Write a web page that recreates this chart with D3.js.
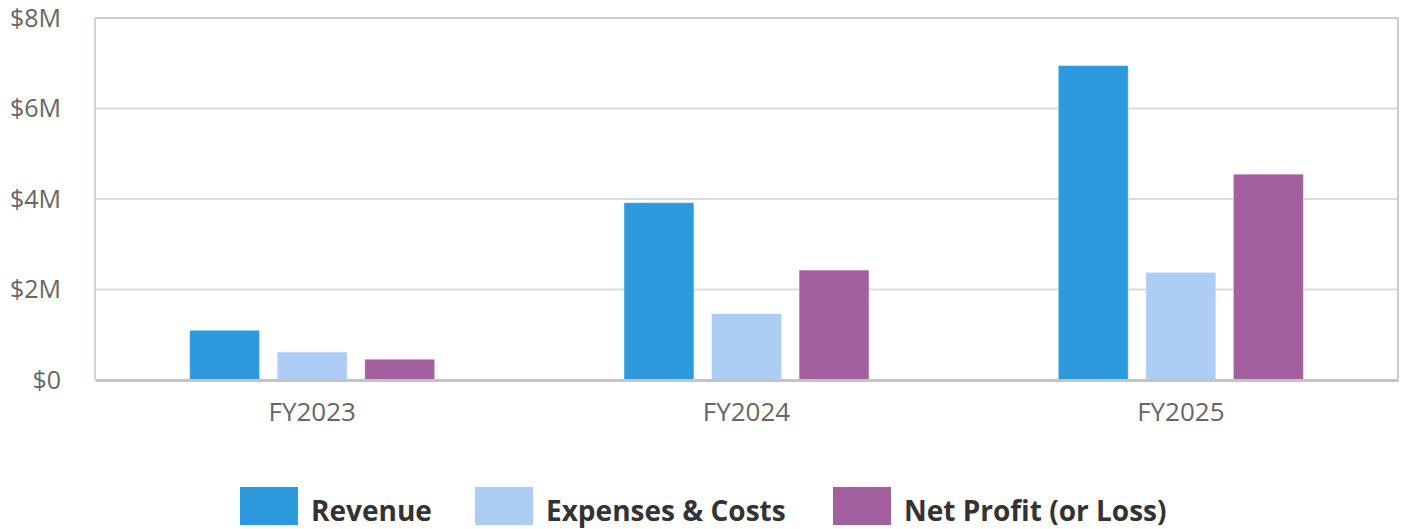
<!DOCTYPE html>
<html>
<head>
<meta charset="utf-8">
<script src="https://cdn.jsdelivr.net/npm/d3@7"></script>
<style>
  body { margin: 0; background: #fff; }
  svg text { font-family: "Open Sans", sans-serif; }
</style>
</head>
<body>
<div id="vis-container"></div>
<script>
// data
let years = ["FY2023", "FY2024", "FY2025"];
let seriesNames = ["Revenue", "Expenses & Costs", "Net Profit (or Loss)"];
let revenue = [1.10, 3.92, 6.95];
let expenses = [0.62, 1.47, 2.38];
let netProfit = [0.46, 2.43, 4.55];
let yTicks = [0, 2, 4, 6, 8];
let colors = ["#2e9ade", "#aecdf5", "#a2619e"];

let seriesValues = [revenue, expenses, netProfit];
let rows = years.map((yr, i) => ({
  year: yr,
  values: seriesNames.map((s, j) => ({ name: s, value: seriesValues[j][i], color: colors[j] }))
}));

//margins
let margin = {top: 18, right: 8, bottom: 149, left: 95};
let W = 1406, H = 529;
let width = W - margin.left - margin.right;
let height = H - margin.top - margin.bottom;

let svg = d3.select("#vis-container")
  .append("svg")
  .attr("width", W)
  .attr("height", H);

let g = svg.append("g")
  .attr("transform", `translate(${margin.left}, ${margin.top})`);

//scales
let x0 = d3.scaleBand()
  .domain(years)
  .range([0, width])
  .padding(0);

let x1 = d3.scaleBand()
  .domain(seriesNames)
  .range([0, x0.bandwidth()])
  .paddingInner(0.2)
  .paddingOuter(1.08);

let y = d3.scaleLinear()
  .domain([0, 8])
  .range([height, 0]);

//gridlines
g.append("g")
  .selectAll("line")
  .data(yTicks.filter(d => d > 0 && d < 8))
  .enter()
  .append("line")
    .attr("x1", 0)
    .attr("x2", width)
    .attr("y1", d => y(d))
    .attr("y2", d => y(d))
    .attr("stroke", "#dcdcdc")
    .attr("stroke-width", 2);

//top and right border
g.append("line")
  .attr("x1", 0).attr("x2", width)
  .attr("y1", y(8)).attr("y2", y(8))
  .attr("stroke", "#cccccc").attr("stroke-width", 2);
g.append("line")
  .attr("x1", width).attr("x2", width)
  .attr("y1", 0).attr("y2", height)
  .attr("stroke", "#cccccc").attr("stroke-width", 2);

//y axis labels
let yAxis = d3.axisLeft(y)
  .tickValues(yTicks)
  .tickSize(0)
  .tickPadding(34)
  .tickFormat(d => "$" + d + (d === 0 ? "" : "M"));

let yAxisGroup = g.append("g")
  .attr("class", "y axis")
  .call(yAxis);
yAxisGroup.select(".domain").remove();
yAxisGroup.selectAll("text")
  .attr("font-size", "25px")
  .attr("fill", "#666")
  .attr("font-family", "Open Sans, sans-serif");

//left line
g.append("line")
  .attr("x1", 0).attr("x2", 0)
  .attr("y1", 0).attr("y2", height)
  .attr("stroke", "#c9d6ea").attr("stroke-width", 2);

//bars
let groups = g.selectAll(".grp")
  .data(rows)
  .enter()
  .append("g")
    .attr("class", "grp")
    .attr("transform", d => `translate(${x0(d.year)},0)`);

groups.selectAll("rect")
  .data(d => d.values)
  .enter()
  .append("rect")
    .attr("x", d => x1(d.name))
    .attr("width", x1.bandwidth())
    .attr("y", d => y(d.value))
    .attr("height", d => y(0) - y(d.value))
    .attr("fill", d => d.color)
    .attr("stroke", "rgba(255,255,255,0.5)")
    .attr("stroke-width", 1);

//x axis
let xAxis = d3.axisBottom(x0)
  .tickSize(0)
  .tickPadding(23);

let xAxisGroup = g.append("g")
  .attr("class", "x axis")
  .attr("transform", `translate(0,${height})`)
  .call(xAxis);
xAxisGroup.select(".domain")
  .attr("stroke", "#c4c4c4")
  .attr("stroke-width", 3);
xAxisGroup.selectAll("text")
  .attr("font-size", "26px")
  .attr("fill", "#666")
  .attr("font-family", "Open Sans, sans-serif");

//legend
let legendX = [240, 475, 833];
let gLegend = svg.append("g");
let leg = gLegend.selectAll("g")
  .data(seriesNames)
  .enter()
  .append("g")
    .attr("transform", (d, i) => `translate(${legendX[i]}, 487)`);

leg.append("rect")
  .attr("width", 58)
  .attr("height", 38)
  .attr("fill", (d, i) => colors[i]);

leg.append("text")
  .attr("x", 71)
  .attr("y", 34)
  .attr("font-size", "28px")
  .attr("font-weight", "bold")
  .attr("fill", "#333")
  .text(d => d);
</script>
</body>
</html>
